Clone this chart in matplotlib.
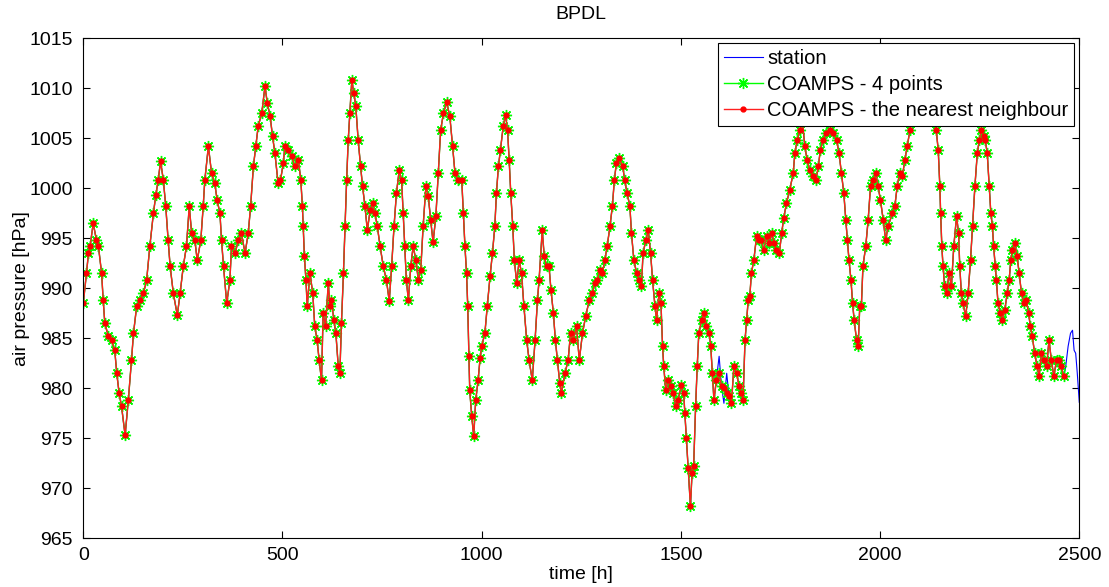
import numpy as np
import matplotlib
matplotlib.use('Agg')
import matplotlib.pyplot as plt

plt.rcParams['font.family'] = ['Liberation Sans', 'DejaVu Sans']

# COAMPS values (hour, hPa)
hours = [0, 8, 13, 17, 25, 33, 38, 46, 50, 54, 63, 71, 79, 84, 90, 96, 105, 113, 121, 126,
         134, 142, 151, 159, 167, 176, 182, 188, 194, 201, 207, 213, 218, 226, 236, 243, 251, 259, 266,
         272, 280, 286, 295, 301, 305, 314, 322, 330, 336, 343, 347, 352, 360, 368, 372, 381, 389,
         397, 406, 414, 420, 427, 433, 439, 448, 456, 462, 469, 475, 481, 489, 495, 502,
         506, 514, 523, 531, 540, 546, 550, 552, 555, 559, 562, 569, 576, 581, 587, 592, 598, 602,
         608, 615, 619, 623, 629, 634, 640, 644, 648, 653, 657, 661, 665, 669, 674, 679, 684, 690,
         696, 701, 707, 713, 720, 726, 732, 738, 745,
         753, 761, 768, 774, 780, 786, 793, 799, 803, 807, 811, 816, 822, 828, 835, 841, 847, 853,
         860, 866, 872, 878, 885, 891, 897, 904, 912, 920, 927, 933, 941, 950, 954, 958, 962, 965,
         968, 970, 975, 980, 985, 991, 996,
         1000, 1008, 1014, 1021, 1027, 1033, 1037, 1042, 1047, 1054, 1060, 1065, 1069, 1073, 1078,
         1082, 1088, 1094, 1100, 1106, 1113, 1119, 1127, 1134, 1140, 1144, 1152, 1157, 1163, 1169,
         1174, 1180, 1185, 1190, 1196, 1200, 1209, 1217, 1223, 1230, 1238, 1245, 1253, 1261, 1270,
         1278, 1284, 1290, 1297, 1303, 1309, 1315, 1322, 1328, 1333, 1338, 1345, 1354, 1359, 1365,
         1372, 1376, 1382, 1389, 1395, 1401, 1405, 1412, 1418, 1424, 1429, 1435, 1439, 1445, 1450,
         1454, 1457, 1462, 1468, 1474, 1481, 1487, 1493, 1501, 1507, 1510, 1514, 1518, 1524, 1528,
         1532, 1537, 1541, 1545, 1552, 1558, 1564, 1571, 1575, 1579, 1583, 1589, 1596, 1602, 1608,
         1615, 1621, 1627, 1633, 1640, 1646, 1652, 1656, 1661, 1665, 1669, 1673, 1677, 1683, 1690,
         1696, 1702, 1708, 1715, 1722, 1728, 1734, 1740, 1747, 1753, 1758, 1765, 1773,
         1782, 1786, 1792, 1799, 1805, 1811, 1817, 1824, 1832, 1839, 1845, 1850, 1857, 1865, 1874,
         1882, 1891, 1897, 1903, 1909, 1914, 1918, 1922, 1927, 1931, 1935, 1941, 1945, 1949, 1953,
         1957, 1964, 1970, 1976, 1983, 1989, 1995, 2001, 2008, 2014, 2020, 2031, 2037, 2043, 2049,
         2056, 2062, 2068, 2075, 2083, 2095, 2108, 2120, 2132, 2141, 2146, 2150, 2152, 2155, 2158,
         2162, 2167, 2173, 2179, 2185, 2192, 2197, 2200, 2204, 2208, 2215, 2221, 2227, 2232, 2238,
         2244, 2249, 2254, 2260, 2264, 2269, 2274, 2278, 2282, 2285, 2289, 2292, 2296, 2302, 2307,
         2313, 2319, 2324, 2328, 2332, 2338, 2344, 2349, 2355, 2361, 2367, 2373, 2377, 2382, 2388,
         2394, 2399, 2405, 2411, 2418, 2424, 2430, 2436, 2443, 2449, 2455, 2461]

coamps = [988.5, 991.5, 993.5, 994.2, 996.5, 994.8, 994.2, 991.5, 988.8, 986.5, 985.2, 984.8, 983.8, 981.5, 979.5, 978.2, 975.3, 978.8, 982.8, 985.5,
          988.2, 988.8, 989.5, 990.8, 994.2, 997.5, 999.3, 1000.8, 1002.7, 1000.8, 998.2, 994.8, 992.2, 989.5, 987.3, 989.5, 992.2, 994.2, 998.2,
          995.5, 994.8, 992.8, 994.8, 998.2, 1000.8, 1004.2, 1001.5, 1000.5, 998.8, 997.5, 994.8, 992.2, 988.5, 990.8, 994.2, 993.5, 994.8,
          995.5, 993.5, 995.5, 998.2, 1002.2, 1004.2, 1006.2, 1007.5, 1010.2, 1008.5, 1007.2, 1005.2, 1003.5, 1000.5, 1000.8, 1002.5,
          1004.2, 1003.8, 1003.2, 1002.2, 1002.8, 1000.8, 998.2, 996.2, 993.2, 990.8, 988.2, 991.5, 989.5, 986.2, 984.8, 982.8, 980.8, 987.5,
          986.2, 990.5, 988.2, 988.8, 986.8, 985.5, 982.2, 981.5, 986.5, 991.5, 996.2, 1000.8, 1004.8, 1007.5, 1010.8, 1009.5, 1008.2, 1004.8,
          1002.2, 1000.2, 998.2, 995.8, 997.8, 998.5, 997.5, 996.2, 994.2,
          992.2, 990.8, 988.7, 992.2, 996.2, 999.5, 1001.8, 1000.8, 997.5, 994.2, 990.8, 988.8, 992.2, 994.2, 992.8, 990.8, 991.8, 996.2,
          1000.2, 999.2, 996.8, 994.6, 997.2, 1001.5, 1005.8, 1007.5, 1008.6, 1007.2, 1004.2, 1001.5, 1000.8, 1000.8, 997.5, 994.2, 991.5, 988.2,
          983.2, 979.8, 977.2, 975.2, 978.8, 980.8, 983.0,
          984.2, 985.5, 988.2, 991.2, 993.5, 996.2, 999.5, 1002.2, 1003.8, 1006.2, 1007.3, 1005.8, 1002.8, 999.5, 996.2,
          992.8, 990.5, 992.8, 991.5, 988.2, 984.8, 982.8, 980.8, 984.8, 988.8, 990.8, 995.8, 993.2, 992.2, 992.2,
          989.8, 987.5, 984.8, 982.8, 980.5, 979.5, 981.5, 982.8, 985.5, 984.8, 986.2, 982.8, 985.5, 987.2, 988.8,
          989.5, 990.5, 990.8, 991.8, 991.5, 992.8, 994.2, 996.2, 998.2, 1000.8, 1002.5, 1003.0, 1002.2, 1000.8, 999.5,
          998.2, 995.5, 992.8, 991.5, 990.8, 990.2, 993.5, 994.8, 995.8, 993.5, 990.8, 988.2, 986.8, 989.5, 988.5,
          984.2, 982.2, 979.8, 980.8, 980.2, 979.5, 978.2, 978.8, 980.3, 979.5, 977.5, 975.0, 972.0, 968.2, 971.5,
          972.2, 978.2, 982.2, 985.5, 986.8, 987.5, 986.2, 985.5, 984.2, 981.5, 978.8, 980.8, 981.5, 980.2, 980.0,
          979.5, 979.2, 978.5, 982.2, 981.5, 980.2, 979.5, 978.8, 984.8, 986.8, 988.8, 989.2, 991.5, 992.8, 995.2,
          994.8, 994.8, 993.8, 995.2, 994.5, 995.5, 994.5, 993.8, 993.5, 995.5, 997.0, 998.5, 999.8,
          1001.5, 1003.5, 1004.8, 1005.8, 1006.8, 1004.2, 1002.8, 1001.8, 1001.2, 1000.8, 1002.2, 1003.8, 1004.8, 1005.5, 1005.8,
          1005.5, 1004.8, 1003.5, 1001.5, 999.5, 996.8, 994.8, 992.8, 990.8, 988.5, 986.8, 984.8, 984.2, 988.2, 988.2,
          992.2, 994.2, 996.8, 1000.2, 1000.8, 1001.5, 1000.2, 998.8, 996.8, 994.8, 996.2, 997.5, 998.2, 1000.2, 1001.5,
          1001.2, 1002.8, 1004.2, 1005.8, 1008.0, 1009.5, 1010.0, 1009.5, 1008.0, 1005.8, 1003.8, 1000.2, 997.5, 994.2, 992.2,
          990.2, 989.5, 991.5, 990.2, 994.2, 997.2, 995.5, 992.2, 989.5, 988.5, 987.2, 989.5, 992.8, 996.2, 1000.2,
          1003.5, 1004.8, 1005.8, 1005.2, 1004.8, 1003.5, 1000.2, 997.5, 996.2, 994.2, 992.2, 990.8, 988.5, 987.5, 986.8,
          987.8, 989.5, 990.8, 992.8, 993.8, 994.5, 993.2, 991.5, 989.5, 988.5, 988.8, 987.5, 986.2, 985.2, 983.5,
          982.2, 981.2, 983.5, 982.8, 982.2, 984.8, 982.8, 981.2, 982.8, 982.8, 982.2, 981.2]

# station: follows COAMPS, except a few hours where it differs, and runs on to 2500 h
station_diff = {1596: 983.2, 1608: 978.5, 1615: 981.5}
station_tail_h = [2466, 2472, 2478, 2483, 2487, 2491, 2495, 2499, 2500]
station_tail_p = [982.2, 984.2, 985.5, 985.8, 983.8, 983.5, 981.5, 979.2, 978.6]

station_h = hours + station_tail_h
station_p = [station_diff.get(h, p) for h, p in zip(hours, coamps)] + station_tail_p

fig = plt.figure(figsize=(11.09, 5.87), dpi=100)
ax = fig.add_axes([0.0751, 0.083, 0.8981, 0.8518])

# matlab-like asterisk (+ and x) and dot markers
ax.plot(station_h, station_p, color='b', lw=0.8, label='station')
ax.plot(hours, coamps, color='#00ff00', lw=1.0, marker=(8, 2, 0), ms=8, mew=1.0,
        label='COAMPS - 4 points')
ax.plot(hours, coamps, color='#ff2020', lw=1.0, marker='o', ms=3.5, mec='r', mfc='r',
        label='COAMPS - the nearest neighbour')

ax.set_xlim(0, 2500)
ax.set_ylim(965, 1015)
ax.set_xticks(np.arange(0, 2501, 500))
ax.set_yticks(np.arange(965, 1016, 5))
ax.tick_params(direction='in', top=True, right=True, length=5, labelsize=14)
ax.tick_params(axis='x', pad=6)
ax.tick_params(axis='y', pad=7.5)
ax.set_title('BPDL', fontsize=14, pad=14)
ax.set_xlabel('time [h]', fontsize=14, labelpad=2)
ax.set_ylabel('air pressure [hPa]', fontsize=14, labelpad=-0.5)

leg = ax.legend(loc='upper right', fontsize=14.5, fancybox=False, framealpha=1,
                edgecolor='black', borderaxespad=0.25, handlelength=1.95,
                borderpad=0.3, labelspacing=0.33, handletextpad=0.2)
leg.get_frame().set_linewidth(0.8)

fig.savefig('out.png', dpi=100)
